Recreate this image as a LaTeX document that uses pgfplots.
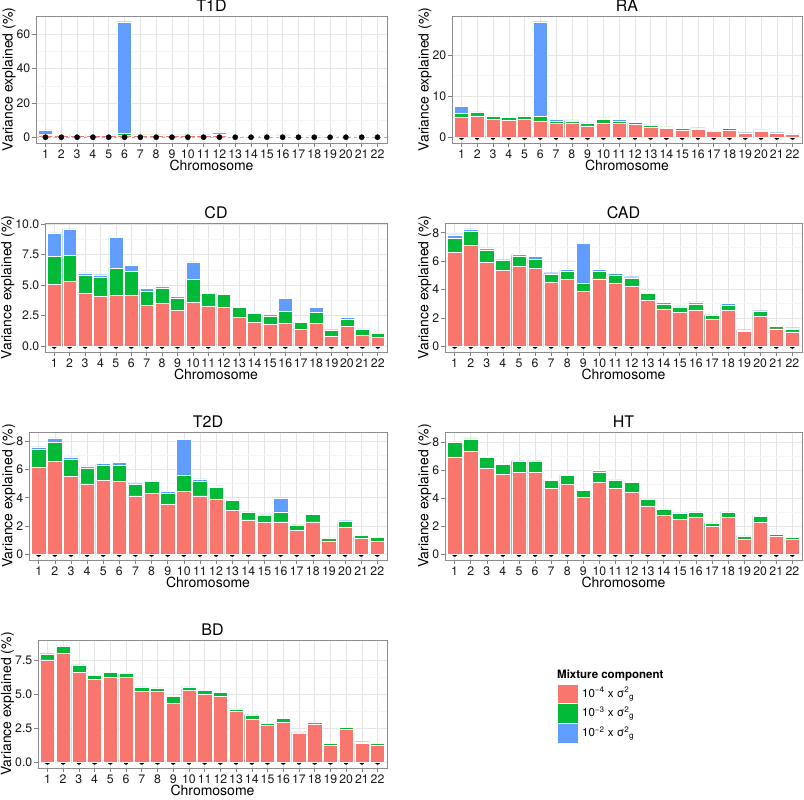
\documentclass[border=0pt]{standalone}
\usepackage{pgfplots}
\usepackage{pgfplotstable}
\pgfplotsset{compat=1.18}
\usepackage{fontspec}
\setmainfont{TeX Gyre Heros}
\definecolor{ggred}{HTML}{F8766D}
\definecolor{gggreen}{HTML}{00BA38}
\definecolor{ggblue}{HTML}{619CFF}

% cumulative tops: r = 1e-4 part, g = r + 1e-3 part, b = total
\pgfplotstableread{
x r g b
1 1.3 1.9 4.2
2 1.2 1.8 2.4
3 1.1 1.5 1.8
4 1.1 1.5 1.7
5 1.1 1.6 2.3
6 1.2 2.2 67.3
7 1.0 1.3 1.5
8 1.0 1.3 1.5
9 0.9 1.2 1.3
10 1.0 1.4 1.7
11 0.9 1.2 1.4
12 1.0 1.5 2.9
13 0.7 0.9 1.0
14 0.7 0.9 1.0
15 0.6 0.7 0.8
16 0.6 0.8 1.3
17 0.5 0.6 0.7
18 0.6 0.8 0.9
19 0.4 0.5 0.55
20 0.5 0.6 0.7
21 0.4 0.5 0.55
22 0.4 0.5 0.55
}\tableTID
\pgfplotstableread{
x r g b
1 4.8 5.8 7.5
2 5.2 6.0 6.2
3 4.3 5.1 5.2
4 4.1 4.8 5.0
5 4.3 5.1 5.2
6 4.0 5.1 28.1
7 3.3 4.0 4.4
8 3.5 4.0 4.2
9 2.8 3.4 3.5
10 3.5 4.3 4.7
11 3.3 4.0 4.3
12 3.1 3.7 3.9
13 2.5 2.9 3.0
14 2.1 2.5 2.6
15 1.8 2.1 2.2
16 1.9 2.25 2.3
17 1.45 1.75 1.85
18 1.75 2.1 2.2
19 0.9 1.05 1.1
20 1.45 1.8 1.9
21 0.9 1.05 1.1
22 0.8 0.95 1.0
}\tableRA
\pgfplotstableread{
x r g b
1 5.04 7.34 9.26
2 5.29 7.40 9.59
3 4.36 5.80 6.00
4 4.08 5.60 5.84
5 4.16 6.36 8.90
6 4.16 6.14 6.63
7 3.34 4.52 4.71
8 3.48 4.74 4.90
9 2.93 3.92 4.08
10 3.62 5.48 6.90
11 3.29 4.30 4.38
12 3.20 4.25 4.33
13 2.38 3.15 3.18
14 1.95 2.66 2.74
15 1.81 2.47 2.58
16 1.89 2.85 3.89
17 1.40 1.97 2.00
18 1.86 2.74 3.18
19 0.80 1.29 1.34
20 1.62 2.19 2.33
21 0.90 1.37 1.42
22 0.74 1.04 1.07
}\tableCD
\pgfplotstableread{
x r g b
1 6.63 7.62 7.86
2 7.10 8.09 8.28
3 5.89 6.75 6.93
4 5.35 6.04 6.10
5 5.61 6.32 6.49
6 5.47 6.15 6.32
7 4.52 5.11 5.18
8 4.69 5.28 5.42
9 3.88 4.45 7.24
10 4.76 5.30 5.42
11 4.47 5.04 5.14
12 4.26 4.83 4.90
13 3.27 3.72 3.81
14 2.63 2.98 3.08
15 2.39 2.77 2.84
16 2.56 2.96 3.12
17 1.92 2.20 2.25
18 2.53 2.91 3.00
19 1.07 1.14 1.16
20 2.10 2.46 2.50
21 1.23 1.40 1.47
22 1.02 1.21 1.30
}\tableCAD
\pgfplotstableread{
x r g b
1 6.18 7.46 7.60
2 6.58 7.95 8.24
3 5.49 6.75 6.89
4 4.99 6.08 6.25
5 5.23 6.32 6.41
6 5.16 6.32 6.51
7 4.14 4.99 5.04
8 4.31 5.18 5.25
9 3.57 4.33 4.43
10 4.47 5.61 8.12
11 4.14 5.14 5.33
12 3.91 4.71 4.83
13 3.08 3.79 3.83
14 2.44 3.00 3.05
15 2.25 2.79 2.86
16 2.30 3.00 3.98
17 1.73 2.08 2.13
18 2.30 2.84 2.89
19 0.95 1.14 1.16
20 1.94 2.32 2.37
21 1.11 1.33 1.35
22 0.92 1.18 1.21
}\tableTIID
\pgfplotstableread{
x r g b
1 6.93 7.95 8.00
2 7.36 8.21 8.29
3 6.14 6.90 6.98
4 5.67 6.38 6.45
5 5.83 6.60 6.64
6 5.81 6.64 6.69
7 4.71 5.26 5.33
8 4.95 5.62 5.67
9 4.07 4.55 4.57
10 5.10 5.83 5.95
11 4.71 5.29 5.33
12 4.43 5.10 5.19
13 3.40 3.90 3.93
14 2.79 3.19 3.21
15 2.50 2.93 2.95
16 2.64 3.02 3.05
17 1.98 2.24 2.26
18 2.64 3.00 3.02
19 1.10 1.29 1.31
20 2.26 2.69 2.71
21 1.26 1.40 1.43
22 1.07 1.19 1.21
}\tableHT
\pgfplotstableread{
x r g b
1 7.52 7.96 7.99
2 8.01 8.50 8.54
3 6.58 7.14 7.16
4 6.07 6.36 6.38
5 6.21 6.58 6.60
6 6.21 6.50 6.53
7 5.19 5.51 5.53
8 5.19 5.44 5.46
9 4.34 4.81 4.83
10 5.29 5.53 5.58
11 5.02 5.27 5.29
12 4.85 5.12 5.15
13 3.71 3.88 3.91
14 3.18 3.47 3.50
15 2.69 2.84 2.86
16 2.91 3.20 3.23
17 2.14 2.23 2.26
18 2.82 2.94 2.96
19 1.24 1.36 1.38
20 2.40 2.55 2.57
21 1.38 1.50 1.53
22 1.26 1.36 1.38
}\tableBD
\pgfplotstableread{
x y
1 0
2 0
3 0
4 0
5 0
6 0
7 0
8 0
9 0
10 0
11 0
12 0
13 0
14 0
15 0
16 0
17 0
18 0
19 0
20 0
21 0
22 0
}\zeros

\pgfplotsset{
  gg/.style={
    scale only axis, anchor=north west,
    clip mode=individual,
    xmin=0.4, xmax=22.6,
    xtick={1,...,22},
    tick pos=left,
    tick align=outside,
    major tick length=4pt,
    minor tick length=0pt,
    every tick/.style={draw=black!50, line width=0.6pt},
    axis line style={draw=black!45, line width=0.7pt},
    xmajorgrids, ymajorgrids, yminorgrids, minor y tick num=1,
    major grid style={draw=black!10, line width=0.5pt},
    minor grid style={draw=black!4, line width=0.4pt},
    tick label style={font=\fontsize{12.3}{13}\selectfont, text=black!90},
    xticklabel style={inner sep=1pt, yshift=-1.5pt},
    yticklabel style={inner sep=1.5pt},
    label style={font=\fontsize{14}{15}\selectfont},
    title style={font=\fontsize{16}{18}\selectfont, yshift=-5pt},
    xlabel={Chromosome}, ylabel={Variance explained (\%)},
    xlabel style={yshift=3pt},
    ylabel style={yshift=-4pt},
    /pgf/number format/assume math mode=true,
  },
  dots/.style={only marks, mark=*, mark size=2.3pt, black},
  barb/.style={ybar, bar width=0.9, bar shift=0pt, draw=white, line width=0.4pt, fill=ggblue},
  barg/.style={ybar, bar width=0.9, bar shift=0pt, draw=white, line width=0.4pt, fill=gggreen},
  barr/.style={ybar, bar width=0.9, bar shift=0pt, draw=white, line width=0.4pt, fill=ggred},
  onedec/.style={yticklabel style={/pgf/number format/.cd, fixed, fixed zerofill, precision=1}},
}

\newcommand{\bars}[1]{%
  \addplot[dots] table[x=x,y=y] {\zeros};
  \addplot[barb] table[x=x,y=b] {#1};
  \addplot[barg] table[x=x,y=g] {#1};
  \addplot[barr] table[x=x,y=r] {#1};
}

\begin{document}
\begin{tikzpicture}
\path[use as bounding box] (0pt,0pt) rectangle (804pt,800pt);

% T1D
\begin{axis}[gg, at={(36pt,784pt)}, width=351pt, height=127pt, title={T1D},
  ymin=-3.37, ymax=70.65, ytick={0,20,40,60}]
  \addplot[barb] table[x=x,y=b] {\tableTID};
  \addplot[barg] table[x=x,y=g] {\tableTID};
  \addplot[barr] table[x=x,y=r] {\tableTID};
  \addplot[ggred, dashed, line width=0.8pt, opacity=0.7] coordinates {(0.4,0) (22.6,0)};
  \addplot[only marks, mark=*, mark size=2.6pt, black] table[x=x,y=y] {\zeros};
\end{axis}

% RA
\begin{axis}[gg, at={(452pt,784pt)}, width=350pt, height=127pt, title={RA},
  ymin=-1.4, ymax=29.5, ytick={0,10,20}]
  \bars{\tableRA}
\end{axis}

% CD
\begin{axis}[gg, onedec, at={(45pt,577pt)}, width=342pt, height=129pt, title={CD},
  ymin=-0.48, ymax=10.07, ytick={0,2.5,5,7.5,10}]
  \bars{\tableCD}
\end{axis}

% CAD
\begin{axis}[gg, at={(445pt,577pt)}, width=357pt, height=129pt, title={CAD},
  ymin=-0.41, ymax=8.69, ytick={0,2,4,6,8}]
  \bars{\tableCAD}
\end{axis}

% T2D
\begin{axis}[gg, at={(29pt,368pt)}, width=358pt, height=128pt, title={T2D},
  ymin=-0.41, ymax=8.65, ytick={0,2,4,6,8}]
  \bars{\tableTIID}
\end{axis}

% HT
\begin{axis}[gg, at={(445pt,368pt)}, width=357pt, height=128pt, title={HT},
  ymin=-0.41, ymax=8.70, ytick={0,2,4,6,8}]
  \bars{\tableHT}
\end{axis}

% BD
\begin{axis}[gg, onedec, at={(38pt,160pt)}, width=349pt, height=128pt, title={BD},
  ymin=-0.43, ymax=8.97, ytick={0,2.5,5,7.5}]
  \bars{\tableBD}
\end{axis}

% legend
\node[anchor=base west, font=\bfseries\fontsize{11.5}{13}\selectfont, inner sep=0pt] at (557pt,121pt) {Mixture component};
\fill[ggred] (558pt,97pt) rectangle (578pt,115pt);
\fill[gggreen] (558pt,77pt) rectangle (578pt,96pt);
\fill[ggblue] (558pt,57pt) rectangle (578pt,76pt);
\node[anchor=west, font=\fontsize{11.5}{13}\selectfont, inner sep=0pt] at (582pt,106pt) {10\textsuperscript{−4} x σ\textsuperscript{2}\textsubscript{g}};
\node[anchor=west, font=\fontsize{11.5}{13}\selectfont, inner sep=0pt] at (582pt,86.5pt) {10\textsuperscript{−3} x σ\textsuperscript{2}\textsubscript{g}};
\node[anchor=west, font=\fontsize{11.5}{13}\selectfont, inner sep=0pt] at (582pt,66.5pt) {10\textsuperscript{−2} x σ\textsuperscript{2}\textsubscript{g}};
\end{tikzpicture}
\end{document}
